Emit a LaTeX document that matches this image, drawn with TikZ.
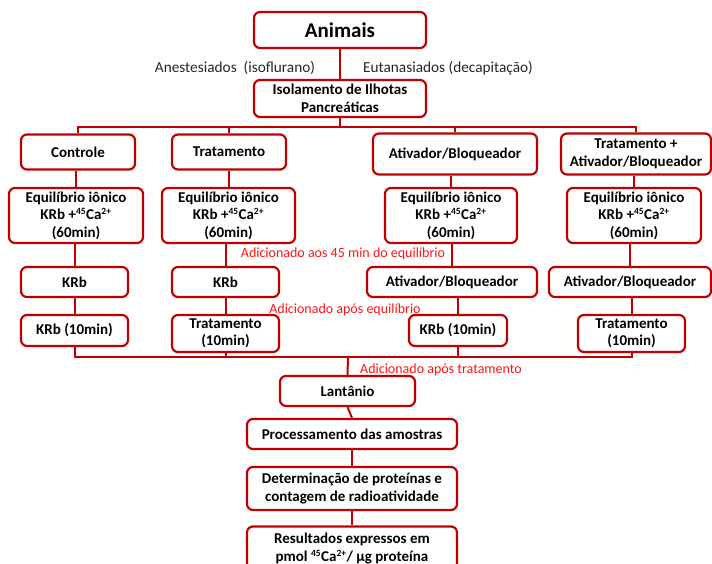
\documentclass[tikz,border=0pt]{standalone}
\usepackage{fontspec}
\setmainfont{Carlito}
\definecolor{boxred}{RGB}{192,0,0}
\definecolor{notered}{RGB}{255,20,20}
\tikzset{
  box/.style={draw=boxred, line width=2.2pt, rounded corners=6pt, fill=white,
    align=center, inner sep=0pt, font=\bfseries\fontsize{15}{17.5}\selectfont},
  link/.style={draw=boxred, line width=2pt},
  note/.style={text=notered, inner sep=0pt, font=\fontsize{14}{16}\selectfont},
  branch/.style={inner sep=0pt, font=\fontsize{15.3}{17}\selectfont, text=black!85},
}
\newcommand{\isotope}[1]{\textsuperscript{\fontsize{9.5}{10}\selectfont #1}}
\newcommand{\eqtext}{Equilíbrio iônico\\KRb +\isotope{45}Ca\isotope{2+}\\(60min)}
\begin{document}
\begin{tikzpicture}[x=1pt,y=-1pt]
\useasboundingbox (0,0) rectangle (712,564);
\clip (0,0) rectangle (712,564);

% top of the protocol
\node[box, minimum width=172pt, minimum height=36pt, font=\bfseries\fontsize{21}{24}\selectfont] (animais) at (340,30) {Animais};
\node[box, minimum width=172pt, minimum height=37pt] (iso) at (340,98.5) {Isolamento de Ilhotas\\Pancreáticas};
\node[branch] (anest) at (235,68) {Anestesiados\ \ (isoflurano)};
\node[branch] (eutan) at (448,68) {Eutanasiados (decapitação)};
\coordinate (busT) at (340,127);

% experimental groups
\node[box, minimum width=114pt, minimum height=35pt] (c1) at (78,152) {Controle};
\node[box, minimum width=114pt, minimum height=35pt] (c2) at (229,152) {Tratamento};
\node[box, minimum width=164pt, minimum height=41pt] (c3) at (455,154) {Ativador/Bloqueador};
\node[box, minimum width=150pt, minimum height=41pt] (c4) at (636,154) {Tratamento +\\Ativador/Bloqueador};

% ionic equilibrium
\node[box, minimum width=134pt, minimum height=55pt] (e1) at (76,215.5) {\eqtext};
\node[box, minimum width=133pt, minimum height=55pt] (e2) at (228.5,215.5) {\eqtext};
\node[box, minimum width=132pt, minimum height=55pt] (e3) at (451,215.5) {\eqtext};
\node[box, minimum width=134pt, minimum height=55pt] (e4) at (634,215.5) {\eqtext};

% additions during equilibrium
\node[box, minimum width=107pt, minimum height=30pt] (k1) at (74.5,282) {KRb};
\node[box, minimum width=107pt, minimum height=30pt] (k2) at (225.5,282) {KRb};
\node[box, minimum width=170pt, minimum height=30pt] (k3) at (452,282) {Ativador/Bloqueador};
\node[box, minimum width=162pt, minimum height=30pt] (k4) at (630,282) {Ativador/Bloqueador};

% 10 min incubations
\node[box, minimum width=107pt, minimum height=31pt] (m1) at (74.5,330.5) {KRb (10min)};
\node[box, minimum width=107pt, minimum height=37pt] (m2) at (225.5,333.5) {Tratamento\\(10min)};
\node[box, minimum width=98pt, minimum height=31pt] (m3) at (458,330.5) {KRb (10min)};
\node[box, minimum width=107pt, minimum height=37pt] (m4) at (631.5,333.5) {Tratamento\\(10min)};
\coordinate (busB) at (348,357);

% final steps
\node[box, minimum width=135pt, minimum height=30pt] (lan) at (347.5,391) {Lantânio};
\node[box, minimum width=210pt, minimum height=30pt] (proc) at (352,434) {Processamento das amostras};
\node[box, minimum width=210pt, minimum height=43pt] (det) at (352,488.5) {Determinação de proteínas e\\contagem de radioatividade};
\node[box, minimum width=210pt, minimum height=44pt] (res) at (352,548.5) {Resultados expressos em\\pmol \isotope{45}Ca\isotope{2+}/ µg proteína};

% timing notes
\node[note] (n1) at (343,254) {Adicionado aos 45 min do equilíbrio};
\node[note] (n2) at (345,310) {Adicionado após equilíbrio};
\node[note] (n3) at (441,370) {Adicionado após tratamento};

% connectors
\draw[link] (animais.south) -- (iso.north);
\draw[link] (iso.south) -- (busT);
\draw[link] (busT) -| (c1.north);
\draw[link] (busT) -| (c2.north);
\draw[link] (busT) -| (c3.north);
\draw[link] (busT) -| (c4.north);
\foreach \col in {1,2,3,4}{
  \draw[link] (e\col.north) -- (e\col.north |- c\col.south);
  \draw[link] (k\col.north) -- (k\col.north |- e\col.south);
  \draw[link] (m\col.north) -- (m\col.north |- k\col.south);
  \draw[link] (m\col.south) |- (busB);
}
\draw[link] (busB) -- (lan.north);
\draw[link] (lan.south) -- (proc.north);
\draw[link] (proc.south) -- (det.north);
\draw[link] (det.south) -- (res.north);
\end{tikzpicture}
\end{document}
